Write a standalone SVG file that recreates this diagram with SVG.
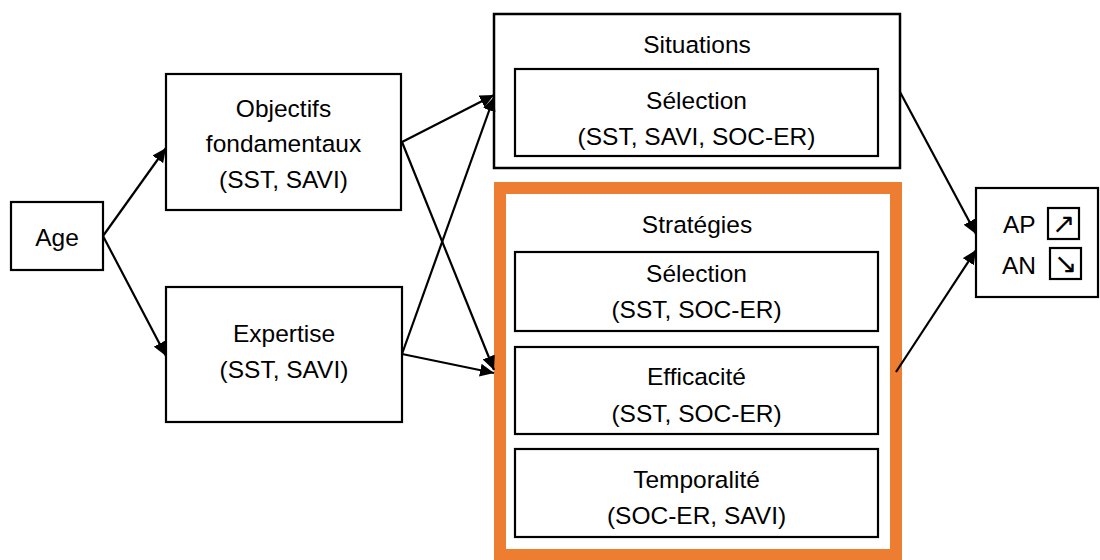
<svg xmlns="http://www.w3.org/2000/svg" width="1100" height="560" viewBox="0 0 1100 560">
<style>
.box{fill:#fff;stroke:#000;stroke-width:2.2}
.orange{fill:#fff;stroke:#ED7D31;stroke-width:12}
text{font-family:"Liberation Sans",Arial,sans-serif;font-size:24.5px;fill:#000;text-anchor:middle}
.conn line{stroke:#000;stroke-width:2.2}
.sym{font-family:"DejaVu Sans",sans-serif;font-size:28px}
</style>
<defs>
<marker id="ah" markerUnits="userSpaceOnUse" markerWidth="15" markerHeight="13" refX="14" refY="6.5" orient="auto">
<path d="M0,0 L14,6.5 L0,13 z" fill="#000"/>
</marker>
</defs>
<rect width="1100" height="560" fill="#fff"/>
<g id="age">
<rect class="box" x="11" y="202" width="92" height="68"/>
<text x="57" y="246">Age</text>
</g>
<g id="objectifs">
<rect class="box" x="166" y="74" width="235" height="136"/>
<text x="283.5" y="117">Objectifs</text>
<text x="283.5" y="152">fondamentaux</text>
<text x="283.5" y="188">(SST, SAVI)</text>
</g>
<g id="expertise">
<rect class="box" x="166" y="287" width="236" height="135"/>
<text x="284" y="342">Expertise</text>
<text x="284" y="378">(SST, SAVI)</text>
</g>
<g id="situations">
<rect class="box" x="494" y="14" width="406" height="154" style="stroke-width:2.5"/>
<text x="697" y="53">Situations</text>
<rect class="box" x="515" y="69" width="363" height="87"/>
<text x="696.5" y="109">Sélection</text>
<text x="696.5" y="145">(SST, SAVI, SOC-ER)</text>
</g>
<g id="strategies">
<rect class="orange" x="500" y="188" width="396" height="367"/>
<text x="697" y="233">Stratégies</text>
</g>
<g id="strat-selection">
<rect class="box" x="515" y="252" width="363" height="79"/>
<text x="696.5" y="282">Sélection</text>
<text x="696.5" y="318">(SST, SOC-ER)</text>
</g>
<g id="strat-efficacite">
<rect class="box" x="515" y="347" width="363" height="87"/>
<text x="696.5" y="385">Efficacité</text>
<text x="696.5" y="422">(SST, SOC-ER)</text>
</g>
<g id="strat-temporalite">
<rect class="box" x="515" y="449" width="363" height="88"/>
<text x="696.5" y="488">Temporalité</text>
<text x="696.5" y="524">(SOC-ER, SAVI)</text>
</g>
<g id="ap-an">
<rect class="box" x="976" y="188" width="122" height="109"/>
<text x="1003" y="233" style="text-anchor:start">AP</text>
<text x="1002" y="274" style="text-anchor:start">AN</text>
<rect class="box" x="1048" y="208" width="31" height="31"/>
<rect class="box" x="1050" y="248" width="31" height="31"/>
<text class="sym" x="1063.5" y="233">↗</text>
<text class="sym" x="1065.5" y="273">↘</text>
</g>
<g id="connectors" class="conn">
<line x1="103" y1="236" x2="166" y2="148" marker-end="url(#ah)"/>
<line x1="103" y1="236" x2="166" y2="356" marker-end="url(#ah)"/>
<line x1="402" y1="142" x2="494" y2="95" marker-end="url(#ah)"/>
<line x1="402" y1="354" x2="494" y2="97" marker-end="url(#ah)"/>
<line x1="402" y1="142" x2="494" y2="370" marker-end="url(#ah)"/>
<line x1="402" y1="354" x2="494" y2="373" marker-end="url(#ah)"/>
<line x1="900" y1="92" x2="976" y2="234" marker-end="url(#ah)"/>
<line x1="896" y1="372" x2="976" y2="250" marker-end="url(#ah)"/>
</g>
</svg>
